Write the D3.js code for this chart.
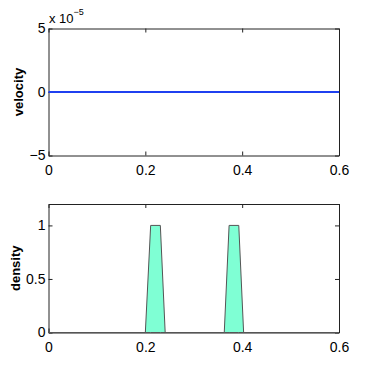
<!DOCTYPE html>
<html>
<head>
<meta charset="utf-8">
<script src="https://cdn.jsdelivr.net/npm/d3@7"></script>
<style>
  body { margin: 0; background: #fff; }
  svg { font-family: "Liberation Sans", Arial, sans-serif; }
  .tick text { font-size: 14px; fill: #000; }
  .ylabel { font-size: 13px; font-weight: bold; }
</style>
</head>
<body>
<div id="chart"></div>
<script>
// data
const xTicks = [0, 0.2, 0.4, 0.6];
const velocityTicks = [-5, 0, 5];          // in units of 1e-5
const densityTicks = [0, 0.5, 1];
const velocityX = [0, 0.6];
const velocityY = [0, 0];
const densityX = [0, 0.2, 0.211, 0.231, 0.241, 0.363, 0.373, 0.393, 0.403, 0.6];
const densityY = [0, 0, 1, 1, 0, 0, 1, 1, 0, 0];

const width = 374, height = 375;
const left = 48.5, right = 339;

const svg = d3.select('#chart').append('svg')
    .attr('width', width)
    .attr('height', height);

// x scale shared by both panels
const xScale = d3.scaleLinear().domain([0, 0.6]).range([left, right]);

function drawPanel(top, bottom, yDomain, yTicks, label, labelX) {
    const yScale = d3.scaleLinear().domain(yDomain).range([bottom, top]);
    const g = svg.append('g');

    // bottom + top axes (ticks inward)
    g.append('g')
        .attr('class', 'axis')
        .attr('transform', `translate(0,${bottom})`)
        .call(d3.axisBottom(xScale).tickValues(xTicks).tickFormat(d3.format('')).tickSize(-4).tickPadding(7).tickSizeOuter(0))
        .call(a => a.selectAll('text').attr('dy', '0.9em'));
    g.append('g')
        .attr('transform', `translate(0,${top})`)
        .call(d3.axisTop(xScale).tickValues(xTicks).tickSize(-4).tickFormat('').tickSizeOuter(0));

    // left + right axes
    g.append('g')
        .attr('transform', `translate(${left},0)`)
        .call(d3.axisLeft(yScale).tickValues(yTicks).tickFormat(d => d < 0 ? '\u2212' + Math.abs(d) : d).tickSize(-4).tickPadding(3).tickSizeOuter(0));
    g.append('g')
        .attr('transform', `translate(${right},0)`)
        .call(d3.axisRight(yScale).tickValues(yTicks).tickSize(-4).tickFormat('').tickSizeOuter(0));

    g.selectAll('.domain').attr('stroke', '#222');
    g.selectAll('.tick line').attr('stroke', '#222');

    g.append('text')
        .attr('class', 'ylabel')
        .attr('transform', `translate(${labelX},${(top + bottom) / 2}) rotate(-90)`)
        .attr('text-anchor', 'middle')
        .text(label);

    return { g, yScale };
}

// top panel: velocity
const p1 = drawPanel(28.5, 155.5, [-5, 5], velocityTicks, 'velocity', 23);
const velData = velocityX.map((x, i) => [x, velocityY[i]]);
p1.g.append('path')
    .datum(velData)
    .attr('fill', 'none')
    .attr('stroke', '#1f40f0')
    .attr('stroke-width', 2)
    .attr('d', d3.line().x(d => xScale(d[0])).y(d => p1.yScale(d[1])));

// exponent label
const expo = p1.g.append('text')
    .attr('x', left + 0.5)
    .attr('y', 23)
    .attr('font-size', 13)
    .text('x 10');
expo.append('tspan')
    .attr('dy', -8)
    .attr('font-size', 9)
    .text('\u22125');

// bottom panel: density
const p2 = drawPanel(204, 332.5, [0, 1.2], densityTicks, 'density', 20);
const denData = densityX.map((x, i) => [x, densityY[i]]);
p2.g.append('path')
    .datum(denData)
    .attr('fill', '#7fffd4')
    .attr('stroke', '#555')
    .attr('stroke-width', 1)
    .attr('d', d3.area().x(d => xScale(d[0])).y0(p2.yScale(0)).y1(d => p2.yScale(d[1])));
</script>
</body>
</html>
